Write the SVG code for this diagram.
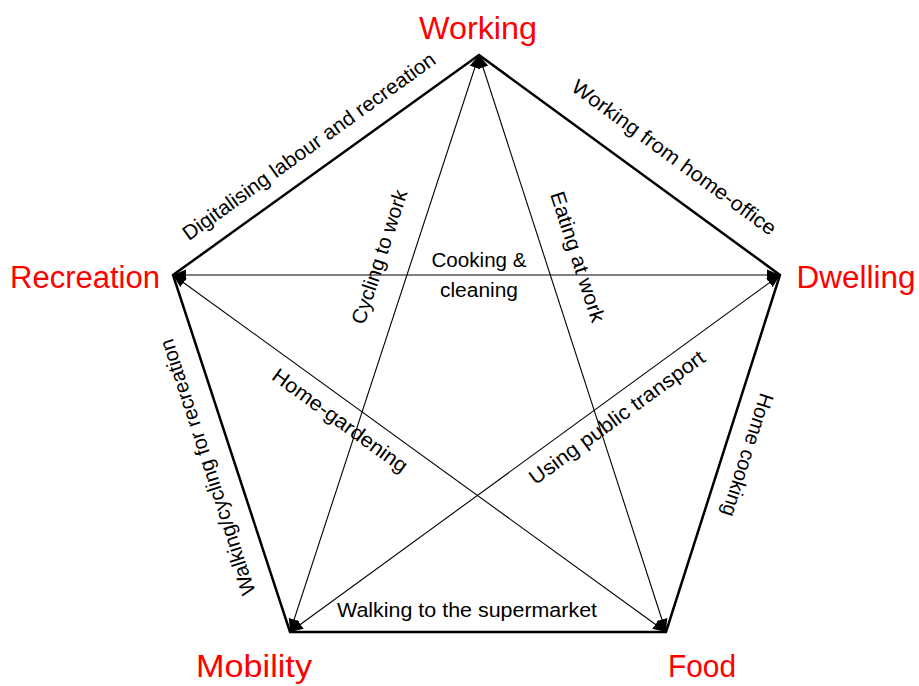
<svg xmlns="http://www.w3.org/2000/svg" width="919" height="686" viewBox="0 0 919 686">
<style>
.node{font-family:"Liberation Sans",Arial,sans-serif;font-size:31px;fill:#ff0000;text-anchor:middle}
.lbl{font-family:"Liberation Sans",Arial,sans-serif;font-size:20.5px;fill:#000;text-anchor:middle}
.edge{stroke:#000;stroke-width:2.5;fill:none;stroke-linecap:round}
.diag{stroke:#000;stroke-width:1.1;fill:none;marker-start:url(#ah);marker-end:url(#ah)}
</style>
<defs>
<marker id="ah" markerUnits="userSpaceOnUse" markerWidth="14" markerHeight="12" refX="13" refY="5.5" orient="auto-start-reverse" viewBox="0 0 14 11">
<path d="M0,0 L13,5.5 L0,11 z" fill="#000"/>
</marker>
</defs>
<rect width="919" height="686" fill="#fff"/>
<g id="connectors">
<polygon class="edge" points="479,55 780,275 666,632 290,632 173,275" stroke-linejoin="miter"/>
<line class="diag" x1="479" y1="55" x2="290" y2="632"/>
<line class="diag" x1="479" y1="55" x2="666" y2="632"/>
<line class="diag" x1="173" y1="275" x2="780" y2="275"/>
<line class="diag" x1="173" y1="275" x2="666" y2="632"/>
<line class="diag" x1="780" y1="275" x2="290" y2="632"/>
<text class="lbl" transform="translate(313,152) rotate(-35.7)" textLength="306" lengthAdjust="spacingAndGlyphs">Digitalising labour and recreation</text>
<text class="lbl" transform="translate(670,163) rotate(36.2)" textLength="248" lengthAdjust="spacingAndGlyphs">Working from home-office</text>
<text class="lbl" transform="translate(741,453) rotate(107.7)" textLength="128" lengthAdjust="spacingAndGlyphs">Home cooking</text>
<text class="lbl" transform="translate(214,465) rotate(-108.1)" textLength="268" lengthAdjust="spacingAndGlyphs">Walking/cycling for recreation</text>
<text class="lbl" x="467" y="617" textLength="260" lengthAdjust="spacingAndGlyphs">Walking to the supermarket</text>
<text class="lbl" x="479" y="267" textLength="95" lengthAdjust="spacingAndGlyphs">Cooking &amp;</text>
<text class="lbl" x="479" y="297" textLength="78" lengthAdjust="spacingAndGlyphs">cleaning</text>
<text class="lbl" transform="translate(386,259) rotate(-71.9)" textLength="140" lengthAdjust="spacingAndGlyphs">Cycling to work</text>
<text class="lbl" transform="translate(571,259) rotate(72)" textLength="136" lengthAdjust="spacingAndGlyphs">Eating at work</text>
<text class="lbl" transform="translate(336,426) rotate(35.9)" textLength="162" lengthAdjust="spacingAndGlyphs">Home-gardening</text>
<text class="lbl" transform="translate(621,423) rotate(-36.1)" textLength="212" lengthAdjust="spacingAndGlyphs">Using public transport</text>
</g>
<g id="working"><text class="node" x="478" y="39" textLength="118" lengthAdjust="spacingAndGlyphs">Working</text></g>
<g id="dwelling"><text class="node" x="856" y="288" textLength="119" lengthAdjust="spacingAndGlyphs">Dwelling</text></g>
<g id="recreation"><text class="node" x="85" y="288" textLength="150" lengthAdjust="spacingAndGlyphs">Recreation</text></g>
<g id="mobility"><text class="node" x="254" y="677" textLength="116" lengthAdjust="spacingAndGlyphs">Mobility</text></g>
<g id="food"><text class="node" x="702" y="677" textLength="68" lengthAdjust="spacingAndGlyphs">Food</text></g>
</svg>
